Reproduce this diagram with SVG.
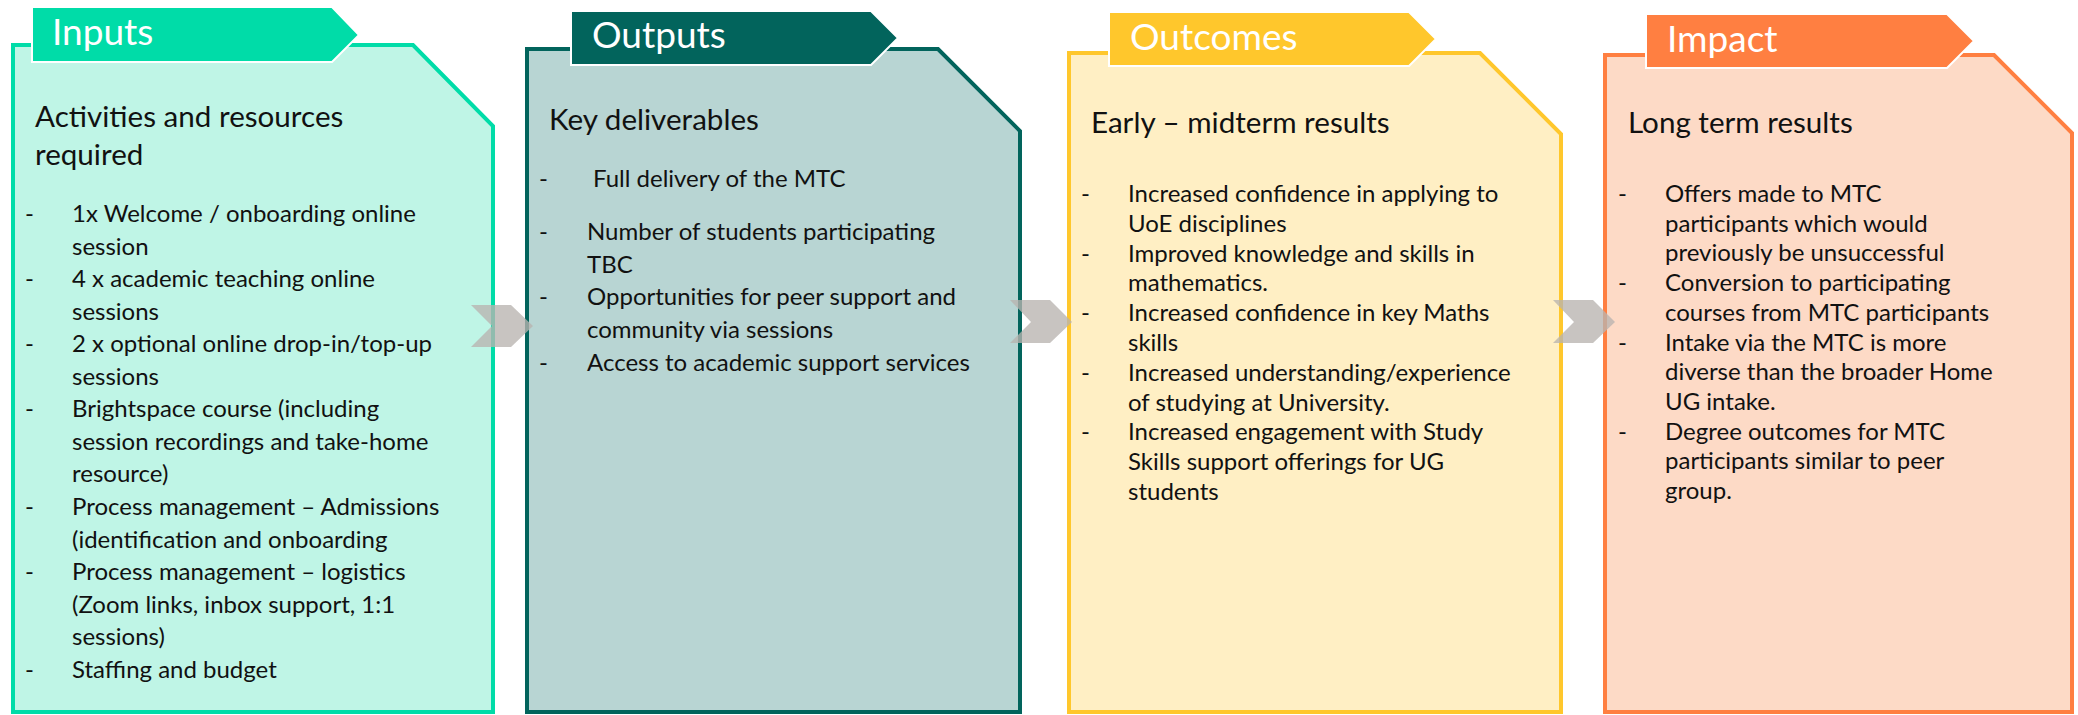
<svg xmlns="http://www.w3.org/2000/svg" width="2078" height="715" viewBox="0 0 2078 715">
<style>
text{font-family:Lato,"Open Sans","Liberation Sans",sans-serif;fill:#111}
.tab{font-size:37px;fill:#fff}
.hd{font-size:29.6px}
.bl{font-size:24px}
.panel{stroke-width:4}
.tabshape{stroke:#fff;stroke-width:2}
.chev{fill:#B9B4AF;opacity:0.78}
</style>
<rect width="2078" height="715" fill="#fff"/>
<g id="inputs">
<polygon class="panel" points="13,45 413,45 493,126 493,712 13,712" fill="#BFF5E6" stroke="#00DCA8"/>
<polygon class="tabshape" points="32,7 332,7 359,35 332,62 32,62" fill="#00DCA8"/>
<text class="tab" x="52" y="45">Inputs</text>
<text class="hd" x="35" y="127">Activities and resources</text>
<text class="hd" x="35" y="165">required</text>
<g class="bl">
<text x="25" y="222">-</text><text x="72" y="222">1x Welcome / onboarding online</text>
<text x="72" y="254.5">session</text>
<text x="25" y="287">-</text><text x="72" y="287">4 x academic teaching online</text>
<text x="72" y="319.6">sessions</text>
<text x="25" y="352.2">-</text><text x="72" y="352.2">2 x optional online drop-in/top-up</text>
<text x="72" y="384.8">sessions</text>
<text x="25" y="417.3">-</text><text x="72" y="417.3">Brightspace course (including</text>
<text x="72" y="449.9">session recordings and take-home</text>
<text x="72" y="482.4">resource)</text>
<text x="25" y="515">-</text><text x="72" y="515">Process management – Admissions</text>
<text x="72" y="547.5">(identification and onboarding</text>
<text x="25" y="580">-</text><text x="72" y="580">Process management – logistics</text>
<text x="72" y="612.6">(Zoom links, inbox support, 1:1</text>
<text x="72" y="645.2">sessions)</text>
<text x="25" y="677.7">-</text><text x="72" y="677.7">Staffing and budget</text>
</g>
</g>
<g id="outputs">
<polygon class="panel" points="527,49 938,49 1020,131 1020,712 527,712" fill="#B8D5D3" stroke="#02645C"/>
<polygon class="tabshape" points="571,11 871,11 898,38 871,65 571,65" fill="#02645C"/>
<text class="tab" x="592" y="48">Outputs</text>
<text class="hd" x="549" y="130">Key deliverables</text>
<g class="bl">
<text x="539" y="187">-</text><text x="593" y="187">Full delivery of the MTC</text>
<text x="539" y="240">-</text><text x="587" y="240">Number of students participating</text>
<text x="587" y="273">TBC</text>
<text x="539" y="305">-</text><text x="587" y="305">Opportunities for peer support and</text>
<text x="587" y="338">community via sessions</text>
<text x="539" y="371">-</text><text x="587" y="371">Access to academic support services</text>
</g>
</g>
<g id="outcomes">
<polygon class="panel" points="1069,53 1480,53 1561,134 1561,712 1069,712" fill="#FFEFC4" stroke="#FFC72C"/>
<polygon class="tabshape" points="1109,12 1409,12 1436,39 1409,66 1109,66" fill="#FFC72C"/>
<text class="tab" x="1130" y="50">Outcomes</text>
<text class="hd" x="1091" y="133">Early – midterm results</text>
<g class="bl">
<text x="1081" y="202">-</text><text x="1128" y="202">Increased confidence in applying to</text>
<text x="1128" y="231.8">UoE disciplines</text>
<text x="1081" y="261.6">-</text><text x="1128" y="261.6">Improved knowledge and skills in</text>
<text x="1128" y="291.4">mathematics.</text>
<text x="1081" y="321.2">-</text><text x="1128" y="321.2">Increased confidence in key Maths</text>
<text x="1128" y="351">skills</text>
<text x="1081" y="380.8">-</text><text x="1128" y="380.8">Increased understanding/experience</text>
<text x="1128" y="410.6">of studying at University.</text>
<text x="1081" y="440.4">-</text><text x="1128" y="440.4">Increased engagement with Study</text>
<text x="1128" y="470.2">Skills support offerings for UG</text>
<text x="1128" y="500">students</text>
</g>
</g>
<g id="impact">
<polygon class="panel" points="1605,55 1994,55 2072,133 2072,712 1605,712" fill="#FDDAC6" stroke="#FF7F41"/>
<polygon class="tabshape" points="1646,14 1947,14 1974,41 1947,68 1646,68" fill="#FF7F41"/>
<text class="tab" x="1667" y="52">Impact</text>
<text class="hd" x="1628" y="133">Long term results</text>
<g class="bl">
<text x="1618" y="202">-</text><text x="1665" y="202">Offers made to MTC</text>
<text x="1665" y="231.7">participants which would</text>
<text x="1665" y="261.4">previously be unsuccessful</text>
<text x="1618" y="291.1">-</text><text x="1665" y="291.1">Conversion to participating</text>
<text x="1665" y="320.8">courses from MTC participants</text>
<text x="1618" y="350.5">-</text><text x="1665" y="350.5">Intake via the MTC is more</text>
<text x="1665" y="380.2">diverse than the broader Home</text>
<text x="1665" y="409.9">UG intake.</text>
<text x="1618" y="439.6">-</text><text x="1665" y="439.6">Degree outcomes for MTC</text>
<text x="1665" y="469.3">participants similar to peer</text>
<text x="1665" y="499">group.</text>
</g>
</g>
<g id="connectors">
<polygon class="chev" points="471,305 511,305 533,326 511,347 471,347 492,326"/>
<polygon class="chev" points="1010,300 1050,300 1072,322 1050,343 1010,343 1031,322"/>
<polygon class="chev" points="1553,300 1593,300 1615,322 1593,343 1553,343 1574,322"/>
</g>
</svg>
